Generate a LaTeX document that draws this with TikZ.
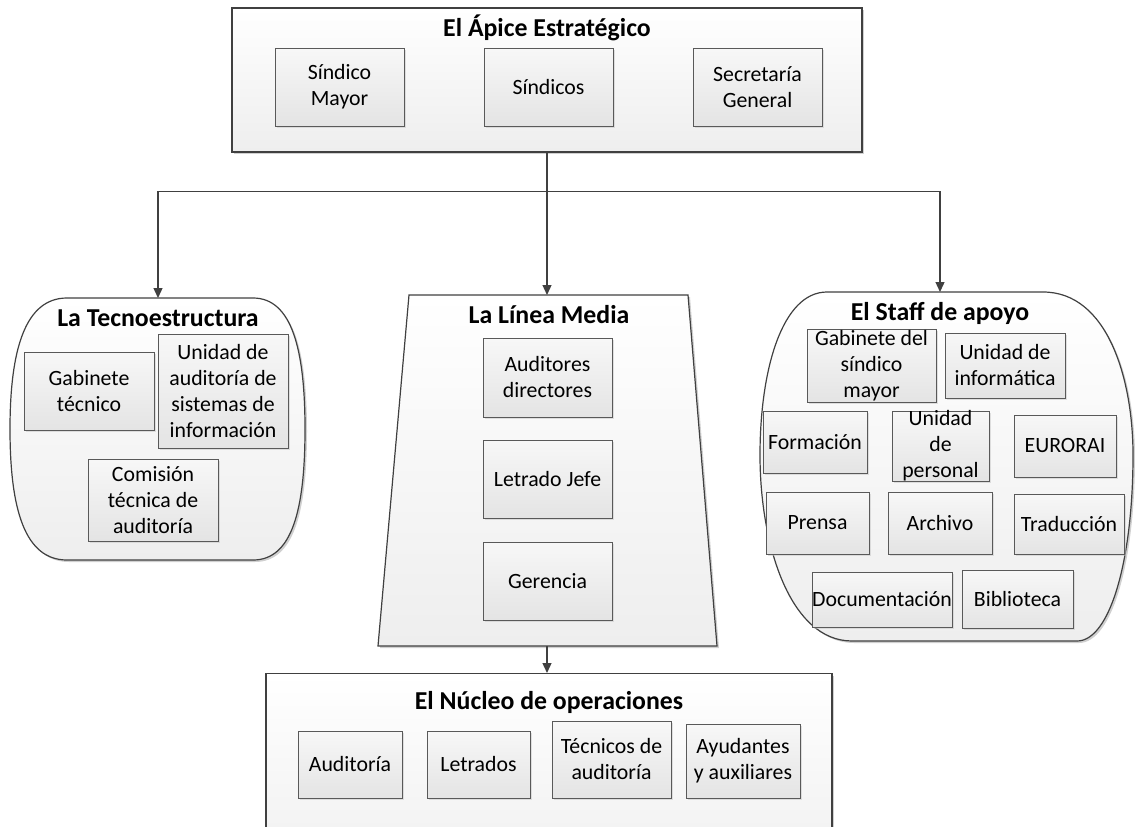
\documentclass[tikz,border=0pt]{standalone}
\usepackage{fontspec}
\setmainfont{Carlito}
\usetikzlibrary{arrows.meta,shadows}

\definecolor{edge}{HTML}{404040}
\definecolor{boxedge}{HTML}{595959}
\definecolor{boxlow}{HTML}{E4E4E4}
\definecolor{panellow}{HTML}{EEEEEE}
\definecolor{shade}{HTML}{C4C4C4}

\tikzset{
  panel/.style={draw=edge, line width=1.2pt, top color=white, bottom color=panellow,
    drop shadow={shadow xshift=2pt, shadow yshift=-2pt, fill=shade, opacity=0.8}},
  unit/.style={draw=boxedge, line width=0.9pt, top color=white!97!black, bottom color=boxlow,
    inner sep=0pt, drop shadow={shadow xshift=1.5pt, shadow yshift=-1.5pt, fill=shade}},
  unittext/.style={align=center, font=\fontsize{21.8}{26}\selectfont, inner sep=0pt},
  paneltitle/.style={font=\fontsize{25.8}{30}\selectfont\bfseries, inner sep=0pt},
  link/.style={draw=edge, line width=1.3pt, -{Triangle[length=10pt,width=9pt]}},
}

% a framed unit: name, centre x, centre y, width, height, text
\newcommand{\orgunit}[6]{%
  \node[unit, minimum width=#4pt, minimum height=#5pt] (#1) at (#2,#3) {};
  \node[unittext] at (#1.center) {#6};}

\begin{document}
\begin{tikzpicture}[x=1pt,y=-1pt]
\useasboundingbox (0,0) rectangle (1135,827);

% ---- strategic apex
\node[panel, minimum width=630pt, minimum height=144pt] (apice) at (547,80) {};
\node[paneltitle] (apicetitle) at (547,28) {El Ápice Estratégico};
\orgunit{smayor}{339.5}{87}{129}{78}{Síndico\\Mayor}
\orgunit{sindicos}{548.5}{87}{129}{78}{Síndicos}
\orgunit{secgen}{757.5}{87}{129}{78}{Secretaría\\General}

% ---- technostructure
\path[panel] (67,298) -- (253,298)
  .. controls (292,298) and (305,350) .. (305,429)
  .. controls (305,510) and (292,560) .. (253,560)
  -- (67,560)
  .. controls (25,560) and (10,510) .. (10,429)
  .. controls (10,350) and (25,298) .. (67,298) -- cycle;
\coordinate (tecnotop) at (158,298);
\node[paneltitle] (tecnotitle) at (158,318) {La Tecnoestructura};
\orgunit{gabtec}{89}{391}{130}{78}{Gabinete\\técnico}
\orgunit{unisis}{223}{391}{130}{114}{Unidad de\\auditoría de\\sistemas de\\información}
\orgunit{comision}{153}{500}{130}{82}{Comisión\\técnica de\\auditoría}

% ---- middle line
\path[panel] (409,295) -- (688,295) -- (717,646) -- (378,646) -- cycle;
\coordinate (lineatop) at (547,295);
\coordinate (lineabot) at (547,646);
\node[paneltitle] (lineatitle) at (549,315) {La Línea Media};
\orgunit{audir}{547.5}{377.5}{129}{79}{Auditores\\directores}
\orgunit{letjefe}{547.5}{479}{129}{78}{Letrado Jefe}
\orgunit{gerencia}{547.5}{581}{129}{78}{Gerencia}

% ---- support staff
\path[panel] (827,292) -- (1043,292)
  .. controls (1108,292) and (1133,380) .. (1133,455)
  .. controls (1133,560) and (1110,641) .. (1077,641)
  -- (852,641)
  .. controls (790,641) and (760,545) .. (760,455)
  .. controls (760,370) and (782,292) .. (827,292) -- cycle;
\coordinate (stafftop) at (940,292);
\node[paneltitle] (stafftitle) at (940,313) {El Staff de apoyo};
\orgunit{gabsm}{871.5}{365.5}{129}{73}{Gabinete del\\síndico\\mayor}
\orgunit{uniinf}{1005}{365.5}{120}{65}{Unidad de\\informática}
\orgunit{formacion}{815}{442}{104}{62}{Formación}
\orgunit{unipers}{940.5}{446}{97}{70}{Unidad\\de\\personal}
\orgunit{eurorai}{1065}{446}{102}{62}{EURORAI}
\orgunit{prensa}{817.5}{523}{103}{62}{Prensa}
\orgunit{archivo}{940}{523}{104}{62}{Archivo}
\orgunit{traduccion}{1069}{524}{110}{60}{Traducción}
\orgunit{documentacion}{882}{599.5}{140}{55}{Documentación}
\orgunit{biblioteca}{1017.5}{599}{111}{58}{Biblioteca}

% ---- operating core
\node[panel, minimum width=566pt, minimum height=220pt, anchor=north] (nucleo) at (549,673) {};
\node[paneltitle] (nucleotitle) at (549,702) {El Núcleo de operaciones};
\orgunit{auditoria}{350}{764.5}{104}{67}{Auditoría}
\orgunit{letrados}{478.5}{764.5}{103}{67}{Letrados}
\orgunit{tecnicos}{611.5}{759.5}{119}{77}{Técnicos de\\auditoría}
\orgunit{ayudantes}{743}{761}{114}{74}{Ayudantes\\y auxiliares}

% ---- connectors
\draw[link] (apice.south) -- (lineatop);
\draw[link] (apice.south) -- ++(0,39) -| (tecnotop);
\draw[link] (apice.south) -- ++(0,39) -| (stafftop);
\draw[link] (lineabot) -- (nucleo.north -| lineabot);
\end{tikzpicture}
\end{document}
